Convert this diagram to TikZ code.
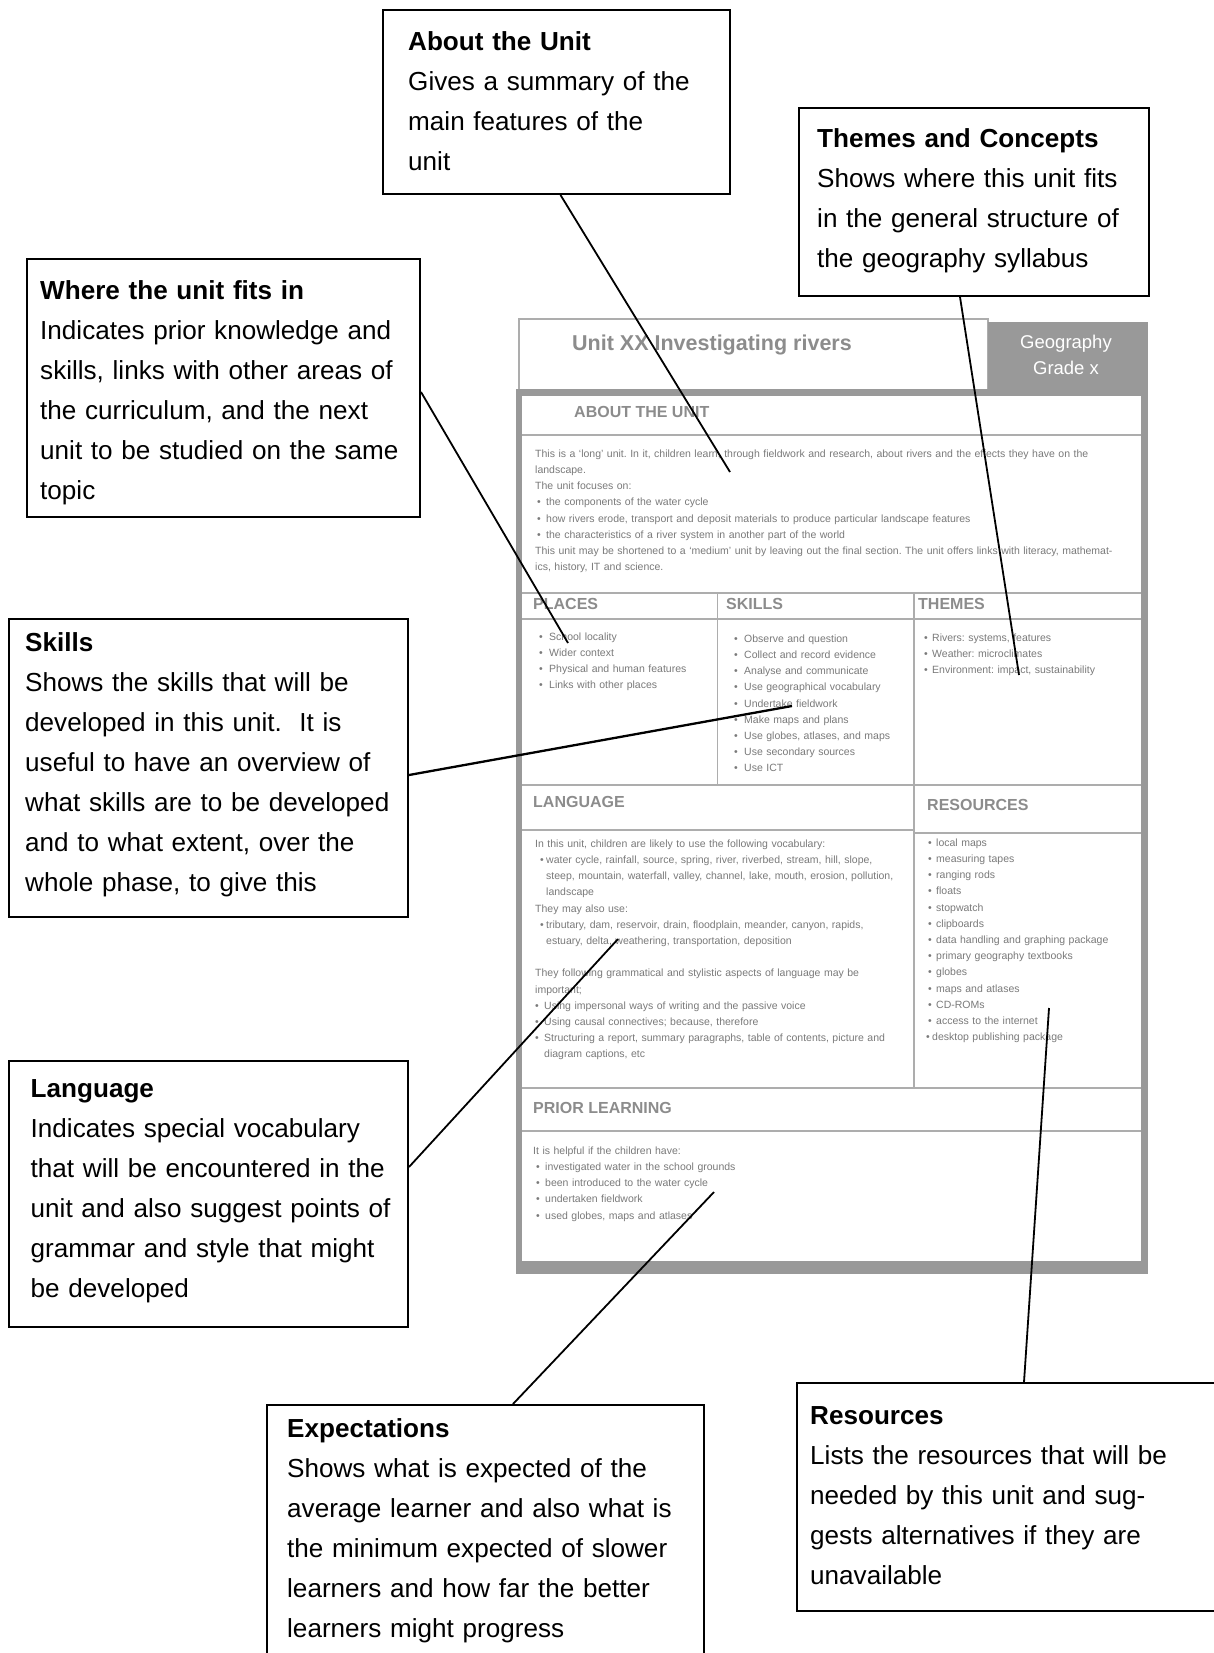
\documentclass[tikz,border=0pt]{standalone}
\usepackage{fontspec}
\setmainfont{Liberation Sans}
\usetikzlibrary{calc}
\frenchspacing
\definecolor{framegray}{gray}{0.60}
\definecolor{headgray}{gray}{0.55}
\definecolor{bodygray}{gray}{0.48}
\definecolor{rulegray}{gray}{0.68}
% bullet in a box of fixed width
\newcommand{\bul}[1][9pt]{\makebox[#1][l]{•}}
\tikzset{
  callout/.style={draw=black, line width=2pt, fill=white, inner sep=0pt, anchor=north west},
  calltext/.style={anchor=base west, inner sep=0pt, text width=400pt, align=left,
    font=\fontsize{26.1}{40}\selectfont},
  conn/.style={draw=black, line width=1.8pt},
  sechead/.style={anchor=west, inner sep=0pt, text height=0.716em, text depth=0pt,
    font=\fontsize{16}{16}\bfseries\selectfont, text=headgray},
  smalltext/.style={anchor=base west, inner sep=0pt, text width=600pt, align=left,
    font=\fontsize{10.5}{16.2}\selectfont, text=bodygray},
  rulestroke/.style={draw=rulegray, line width=1.2pt},
}
\begin{document}
\begin{tikzpicture}[x=1pt, y=-1pt]
\useasboundingbox (0,0) rectangle (1214,1653);

% ---------- the unit page ----------
% header
\draw[rulegray, line width=1.2pt, fill=white] (519,319) rectangle (988,390);
\fill[framegray] (988,322) rectangle (1148,390);
\node[anchor=west, inner sep=0pt, text height=0.716em, text depth=0pt,
  font=\fontsize{21.5}{22}\bfseries\selectfont, text=headgray] (title) at (572,347)
  {Unit XX Investigating rivers};
\node[inner sep=0pt, font=\fontsize{18.5}{26}\selectfont, text=white, align=center] (subject)
  at (1066,355) {Geography\\Grade x};

% body frame
\fill[framegray] (516,389) rectangle (1148,1274);
\fill[white] (522,396) rectangle (1141,1261);

% section rules
\draw[rulestroke] (522,435) -- (1141,435);
\draw[rulestroke] (522,593) -- (1141,593);
\draw[rulestroke] (522,619) -- (1141,619);
\draw[rulestroke] (717.5,593) -- (717.5,785);
\draw[rulestroke] (914,593) -- (914,1088);
\draw[rulestroke] (522,785) -- (1141,785);
\draw[rulestroke] (522,830) -- (914,830);
\draw[rulestroke] (914,833) -- (1141,833);
\draw[rulestroke] (522,1088) -- (1141,1088);
\draw[rulestroke] (522,1131) -- (1141,1131);

% section headings
\node[sechead] (hAbout) at (574,414) {ABOUT THE UNIT};
\node[sechead] (hPlaces) at (533,606) {PLACES};
\node[sechead] (hSkills) at (726,606) {SKILLS};
\node[sechead] (hThemes) at (918,606) {THEMES};
\node[sechead] (hLanguage) at (533,804) {LANGUAGE};
\node[sechead] (hResources) at (927,807) {RESOURCES};
\node[sechead] (hPrior) at (533,1110) {PRIOR LEARNING};

% section texts
\node[smalltext] (tAbout) at (535,457.3) {%
This is a ‘long’ unit. In it, children learn, through fieldwork and research, about rivers and the effects they have on the\\
landscape.\\
The unit focuses on:\\
\hspace*{2pt}\bul the components of the water cycle\\
\hspace*{2pt}\bul how rivers erode, transport and deposit materials to produce particular landscape features\\
\hspace*{2pt}\bul the characteristics of a river system in another part of the world\\
This unit may be shortened to a ‘medium’ unit by leaving out the final section. The unit offers links with literacy, mathemat-\\
ics, history, IT and science.};

\node[smalltext, text width=170pt] (tPlaces) at (539,640.3) {%
\bul[10pt]School locality\\
\bul[10pt]Wider context\\
\bul[10pt]Physical and human features\\
\bul[10pt]Links with other places};

\node[smalltext, text width=170pt] (tSkills) at (734,642.3) {%
\bul[10pt]Observe and question\\
\bul[10pt]Collect and record evidence\\
\bul[10pt]Analyse and communicate\\
\bul[10pt]Use geographical vocabulary\\
\bul[10pt]Undertake fieldwork\\
\bul[10pt]Make maps and plans\\
\bul[10pt]Use globes, atlases, and maps\\
\bul[10pt]Use secondary sources\\
\bul[10pt]Use ICT};

\node[smalltext, text width=220pt] (tThemes) at (924,641.3) {%
\bul[8pt]Rivers: systems, features\\
\bul[8pt]Weather: microclimates\\
\bul[8pt]Environment: impact, sustainability};

\node[smalltext, text width=380pt] (tLanguage) at (535,847.3) {%
In this unit, children are likely to use the following vocabulary:\\
\hspace*{5pt}\bul[6pt]water cycle, rainfall, source, spring, river, riverbed, stream, hill, slope,\\
\hspace*{11pt}steep, mountain, waterfall, valley, channel, lake, mouth, erosion, pollution,\\
\hspace*{11pt}landscape\\
They may also use:\\
\hspace*{5pt}\bul[6pt]tributary, dam, reservoir, drain, floodplain, meander, canyon, rapids,\\
\hspace*{11pt}estuary, delta, weathering, transportation, deposition\\[16.2pt]
They following grammatical and stylistic aspects of language may be\\
important;\\
\bul[9pt]Using impersonal ways of writing and the passive voice\\
\bul[9pt]Using causal connectives; because, therefore\\
\bul[9pt]Structuring a report, summary paragraphs, table of contents, picture and\\
\hspace*{9pt}diagram captions, etc};

\node[smalltext, text width=210pt] (tResources) at (928,846.3) {%
\bul[8pt]local maps\\
\bul[8pt]measuring tapes\\
\bul[8pt]ranging rods\\
\bul[8pt]floats\\
\bul[8pt]stopwatch\\
\bul[8pt]clipboards\\
\bul[8pt]data handling and graphing package\\
\bul[8pt]primary geography textbooks\\
\bul[8pt]globes\\
\bul[8pt]maps and atlases\\
\bul[8pt]CD-ROMs\\
\bul[8pt]access to the internet\\
\hspace*{-2pt}\bul[6pt]desktop publishing package};

\node[smalltext, text width=400pt] (tPrior) at (533,1154.3) {%
It is helpful if the children have:\\
\hspace*{3pt}\bul[9pt]investigated water in the school grounds\\
\hspace*{3pt}\bul[9pt]been introduced to the water cycle\\
\hspace*{3pt}\bul[9pt]undertaken fieldwork\\
\hspace*{3pt}\bul[9pt]used globes, maps and atlases};

% ---------- callout boxes ----------
\node[callout, minimum width=347pt, minimum height=184pt] (about) at (382,9) {};
\node[callout, minimum width=350pt, minimum height=188pt] (themes) at (798,107) {};
\node[callout, minimum width=393.5pt, minimum height=258pt] (where) at (25.5,258) {};
\node[callout, minimum width=399pt, minimum height=298pt] (skills) at (8,618) {};
\node[callout, minimum width=399pt, minimum height=266pt] (language) at (8,1060) {};
\node[callout, minimum width=437pt, minimum height=300pt] (expect) at (266,1404) {};
\node[callout, minimum width=440pt, minimum height=228pt] (resources) at (796,1382) {};

\node[calltext] (aboutText) at (408,50.5) {\textbf{About the Unit}\\Gives a summary of the\\main features of the\\unit};
\node[calltext] (themesText) at (817,148) {\textbf{Themes and Concepts}\\Shows where this unit fits\\in the general structure of\\the geography syllabus};
\node[calltext] (whereText) at (40,299.5) {\textbf{Where the unit fits in}\\Indicates prior knowledge and\\skills, links with other areas of\\the curriculum, and the next\\unit to be studied on the same\\topic};
\node[calltext] (skillsText) at (25,651) {\textbf{Skills}\\Shows the skills that will be\\developed in this unit.\ \ It is\\useful to have an overview of\\what skills are to be developed\\and to what extent, over the\\whole phase, to give this};
\node[calltext] (languageText) at (30.5,1097.5) {\textbf{Language}\\Indicates special vocabulary\\that will be encountered in the\\unit and also suggest points of\\grammar and style that might\\be developed};
\node[calltext] (expectText) at (287,1437.5) {\textbf{Expectations}\\Shows what is expected of the\\average learner and also what is\\the minimum expected of slower\\learners and how far the better\\learners might progress};
\node[calltext] (resourcesText) at (810,1424.5) {\textbf{Resources}\\Lists the resources that will be\\needed by this unit and sug-\\gests alternatives if they are\\unavailable};

% ---------- pointers into the page ----------
\coordinate (aboutEnd) at (730,472);
\coordinate (themesEnd) at (1019,675);
\coordinate (whereEnd) at (568,643);
\coordinate (skillsEnd) at (792,706);
\coordinate (languageEnd) at (618,939);
\coordinate (expectEnd) at (714,1192);
\coordinate (resourcesEnd) at (1049,1008);

\draw[conn] ([xshift=178.5pt]about.south west) -- (aboutEnd);
\draw[conn] ([xshift=162pt]themes.south west) -- (themesEnd);
\draw[conn] ([yshift=-134pt]where.north east) -- (whereEnd);
\draw[conn, line width=2.3pt] ([yshift=-157pt]skills.north east) -- (skillsEnd);
\draw[conn] ([yshift=-107pt]language.north east) -- (languageEnd);
\draw[conn] ([xshift=247pt]expect.north west) -- (expectEnd);
\draw[conn] ([xshift=228pt]resources.north west) -- (resourcesEnd);
\end{tikzpicture}
\end{document}
